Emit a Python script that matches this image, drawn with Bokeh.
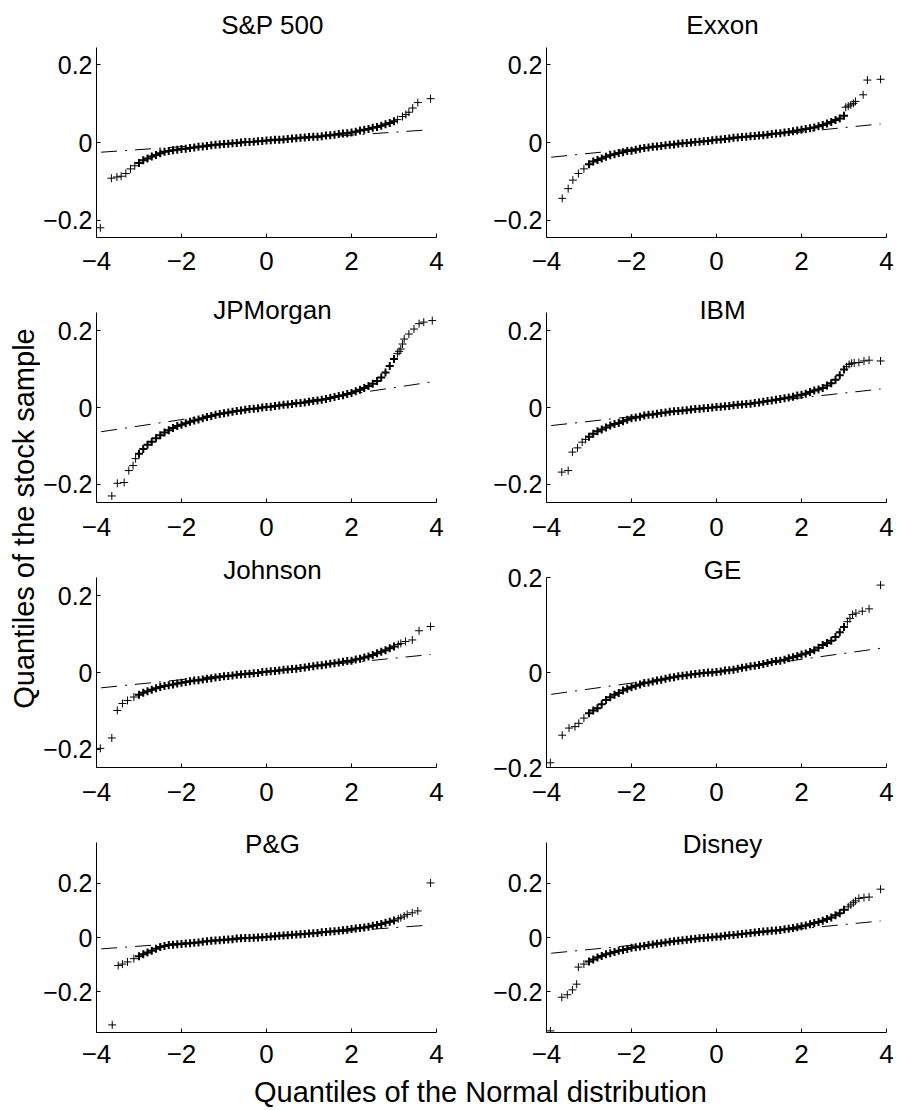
import math
from bokeh.plotting import figure
from bokeh.layouts import row, column
from bokeh.models import Range1d, FixedTicker, CustomJSTickFormatter, Label
from bokeh.core.properties import value
from bokeh.embed import file_html
from bokeh.resources import INLINE

FONT = "Liberation Sans"

# ---------------- data ----------------
stocks = ["S&P 500", "Exxon", "JPMorgan", "IBM", "Johnson", "GE", "P&G", "Disney"]

x_label = "Quantiles of the Normal distribution"
y_label = "Quantiles of the stock sample"

x_ticks = [-4, -2, 0, 2, 4]
y_ticks = [-0.2, 0, 0.2]
y_limits = [0.245, 0.245, 0.247, 0.247, 0.248, 0.2, 0.35, 0.35]

# normal quantiles (central part of the sample)
grid_x = [-3.0, -2.9, -2.8, -2.7, -2.6, -2.5, -2.4, -2.3, -2.2, -2.1,
          -2.0, -1.9, -1.8, -1.7, -1.6, -1.5, -1.4, -1.3, -1.2, -1.1,
          -1.0, -0.9, -0.8, -0.7, -0.6, -0.5, -0.4, -0.3, -0.2, -0.1,
          0.0, 0.1, 0.2, 0.3, 0.4, 0.5, 0.6, 0.7, 0.8, 0.9,
          1.0, 1.1, 1.2, 1.3, 1.4, 1.5, 1.6, 1.7, 1.8, 1.9,
          2.0, 2.1, 2.2, 2.3, 2.4, 2.5, 2.6, 2.7, 2.8, 2.9,
          3.0]

sp500_y = [-0.053, -0.046, -0.041, -0.036, -0.032, -0.028, -0.024, -0.022, -0.020, -0.019,
           -0.017, -0.016, -0.014, -0.013, -0.011, -0.010, -0.009, -0.007, -0.006, -0.005,
           -0.004, -0.003, -0.002, -0.001, 0.000, 0.001, 0.001, 0.002, 0.003, 0.004,
           0.005, 0.006, 0.007, 0.007, 0.008, 0.009, 0.010, 0.011, 0.012, 0.013,
           0.014, 0.015, 0.015, 0.016, 0.018, 0.019, 0.020, 0.022, 0.023, 0.024,
           0.026, 0.028, 0.031, 0.033, 0.035, 0.038, 0.040, 0.043, 0.047, 0.050,
           0.055]
exxon_y = [-0.056, -0.049, -0.045, -0.041, -0.037, -0.033, -0.030, -0.027, -0.025, -0.022,
           -0.021, -0.019, -0.016, -0.014, -0.013, -0.011, -0.010, -0.009, -0.007, -0.006,
           -0.005, -0.003, -0.002, -0.001, 0.000, 0.001, 0.002, 0.003, 0.004, 0.006,
           0.007, 0.008, 0.009, 0.010, 0.012, 0.013, 0.014, 0.015, 0.016, 0.017,
           0.018, 0.019, 0.020, 0.022, 0.023, 0.024, 0.026, 0.027, 0.029, 0.031,
           0.033, 0.035, 0.037, 0.039, 0.042, 0.045, 0.049, 0.053, 0.058, 0.062,
           0.069]
jpmorgan_y = [-0.120, -0.108, -0.097, -0.089, -0.080, -0.072, -0.065, -0.059, -0.053, -0.048,
              -0.045, -0.041, -0.037, -0.034, -0.031, -0.028, -0.025, -0.022, -0.019, -0.017,
              -0.015, -0.013, -0.011, -0.009, -0.008, -0.006, -0.004, -0.003, -0.002, 0.000,
              0.001, 0.002, 0.004, 0.005, 0.007, 0.008, 0.009, 0.011, 0.012, 0.013,
              0.015, 0.017, 0.018, 0.020, 0.022, 0.025, 0.027, 0.030, 0.032, 0.035,
              0.038, 0.042, 0.046, 0.051, 0.056, 0.062, 0.069, 0.078, 0.091, 0.108,
              0.126]
ibm_y = [-0.076, -0.068, -0.062, -0.057, -0.052, -0.047, -0.043, -0.040, -0.036, -0.032,
         -0.028, -0.026, -0.024, -0.021, -0.019, -0.018, -0.016, -0.014, -0.013, -0.011,
         -0.010, -0.009, -0.008, -0.007, -0.005, -0.004, -0.003, -0.002, -0.001, 0.000,
         0.001, 0.002, 0.003, 0.004, 0.006, 0.007, 0.008, 0.009, 0.010, 0.012,
         0.013, 0.015, 0.017, 0.018, 0.020, 0.022, 0.024, 0.026, 0.028, 0.031,
         0.033, 0.036, 0.040, 0.044, 0.047, 0.051, 0.057, 0.063, 0.072, 0.084,
         0.099]
johnson_y = [-0.058, -0.053, -0.049, -0.045, -0.041, -0.038, -0.035, -0.033, -0.031, -0.029,
             -0.027, -0.025, -0.023, -0.021, -0.020, -0.018, -0.016, -0.015, -0.013, -0.012,
             -0.010, -0.009, -0.008, -0.006, -0.005, -0.004, -0.003, -0.002, -0.001, 0.001,
             0.002, 0.003, 0.004, 0.005, 0.007, 0.008, 0.009, 0.010, 0.012, 0.013,
             0.015, 0.016, 0.018, 0.019, 0.021, 0.023, 0.024, 0.026, 0.028, 0.030,
             0.031, 0.034, 0.036, 0.039, 0.042, 0.046, 0.050, 0.054, 0.058, 0.063,
             0.068]
ge_y = [-0.086, -0.080, -0.075, -0.067, -0.058, -0.052, -0.047, -0.043, -0.038, -0.034,
        -0.031, -0.028, -0.025, -0.022, -0.021, -0.019, -0.017, -0.015, -0.013, -0.011,
        -0.010, -0.008, -0.007, -0.006, -0.004, -0.003, -0.002, -0.001, 0.000, 0.000,
        0.001, 0.002, 0.004, 0.005, 0.006, 0.008, 0.010, 0.011, 0.013, 0.014,
        0.016, 0.018, 0.020, 0.022, 0.024, 0.025, 0.027, 0.030, 0.032, 0.035,
        0.038, 0.040, 0.043, 0.047, 0.052, 0.058, 0.062, 0.067, 0.075, 0.085,
        0.096]
pg_y = [-0.069, -0.062, -0.055, -0.049, -0.041, -0.035, -0.031, -0.028, -0.027, -0.025,
        -0.024, -0.022, -0.021, -0.019, -0.018, -0.016, -0.014, -0.012, -0.011, -0.010,
        -0.008, -0.007, -0.006, -0.004, -0.003, -0.002, -0.002, -0.001, 0.000, 0.001,
        0.002, 0.004, 0.005, 0.006, 0.007, 0.008, 0.010, 0.011, 0.012, 0.013,
        0.015, 0.016, 0.017, 0.019, 0.020, 0.022, 0.023, 0.025, 0.027, 0.029,
        0.031, 0.033, 0.035, 0.037, 0.040, 0.043, 0.046, 0.050, 0.054, 0.058,
        0.063]
disney_y = [-0.088, -0.081, -0.074, -0.068, -0.062, -0.058, -0.053, -0.049, -0.046, -0.042,
            -0.038, -0.036, -0.033, -0.031, -0.028, -0.026, -0.023, -0.021, -0.018, -0.016,
            -0.014, -0.012, -0.010, -0.008, -0.006, -0.005, -0.003, -0.002, 0.000, 0.001,
            0.003, 0.004, 0.006, 0.008, 0.009, 0.011, 0.013, 0.015, 0.017, 0.018,
            0.020, 0.022, 0.023, 0.025, 0.026, 0.028, 0.030, 0.032, 0.035, 0.038,
            0.041, 0.044, 0.049, 0.053, 0.057, 0.062, 0.068, 0.074, 0.082, 0.089,
            0.102]

# tail points (|x| > 3) read individually
sp500_tail_x = [-3.91, -3.65, -3.52, -3.42, -3.31, -3.20, -3.10, 3.08, 3.20, 3.28, 3.35, 3.44, 3.56, 3.86]
sp500_tail_y = [-0.220, -0.092, -0.089, -0.087, -0.080, -0.068, -0.060, 0.059, 0.067, 0.072, 0.078, 0.089, 0.103, 0.113]
exxon_tail_x = [-3.63, -3.49, -3.38, -3.25, -3.12, 3.04, 3.10, 3.16, 3.22, 3.27, 3.45, 3.55, 3.86]
exxon_tail_y = [-0.144, -0.119, -0.097, -0.080, -0.068, 0.091, 0.094, 0.097, 0.101, 0.106, 0.123, 0.161, 0.163]
jpmorgan_tail_x = [-3.64, -3.51, -3.35, -3.24, -3.14, -3.08, 3.08, 3.12, 3.16, 3.20, 3.24, 3.35, 3.47, 3.59, 3.70, 3.90]
jpmorgan_tail_y = [-0.230, -0.197, -0.195, -0.164, -0.151, -0.133, 0.140, 0.146, 0.152, 0.165, 0.178, 0.191, 0.204, 0.218, 0.222, 0.226]
ibm_tail_x = [-3.64, -3.49, -3.39, -3.27, -3.16, -3.08, 3.06, 3.12, 3.18, 3.24, 3.35, 3.47, 3.59, 3.86]
ibm_tail_y = [-0.168, -0.164, -0.116, -0.105, -0.090, -0.083, 0.106, 0.112, 0.115, 0.116, 0.117, 0.121, 0.123, 0.121]
johnson_tail_x = [-3.91, -3.64, -3.51, -3.39, -3.27, -3.12, 3.10, 3.16, 3.27, 3.43, 3.59, 3.86]
johnson_tail_y = [-0.198, -0.171, -0.099, -0.081, -0.073, -0.064, 0.073, 0.076, 0.081, 0.085, 0.109, 0.120]
ge_tail_x = [-3.91, -3.63, -3.47, -3.33, -3.24, -3.12, 3.08, 3.14, 3.20, 3.28, 3.43, 3.59, 3.86]
ge_tail_y = [-0.190, -0.132, -0.117, -0.114, -0.107, -0.096, 0.107, 0.114, 0.122, 0.125, 0.129, 0.134, 0.184]
pg_tail_x = [-3.63, -3.49, -3.39, -3.27, -3.12, 3.10, 3.16, 3.24, 3.31, 3.43, 3.56, 3.86]
pg_tail_y = [-0.322, -0.103, -0.098, -0.090, -0.078, 0.069, 0.073, 0.079, 0.085, 0.091, 0.098, 0.201]
disney_tail_x = [-3.91, -3.64, -3.51, -3.39, -3.29, -3.25, -3.12, 3.10, 3.16, 3.22, 3.27, 3.35, 3.47, 3.59, 3.86]
disney_tail_y = [-0.344, -0.220, -0.211, -0.193, -0.172, -0.109, -0.098, 0.113, 0.120, 0.128, 0.135, 0.144, 0.147, 0.149, 0.178]

# reference (quartile-fit) line end points
qq_line_x = [-3.89, 3.86]
qq_line_start = [-0.025, -0.038, -0.063, -0.047, -0.040, -0.046, -0.042, -0.058]
qq_line_end = [0.033, 0.048, 0.066, 0.048, 0.047, 0.051, 0.046, 0.061]

center_y = [sp500_y, exxon_y, jpmorgan_y, ibm_y, johnson_y, ge_y, pg_y, disney_y]
tail_x = [sp500_tail_x, exxon_tail_x, jpmorgan_tail_x, ibm_tail_x, johnson_tail_x, ge_tail_x, pg_tail_x, disney_tail_x]
tail_y = [sp500_tail_y, exxon_tail_y, jpmorgan_tail_y, ibm_tail_y, johnson_tail_y, ge_tail_y, pg_tail_y, disney_tail_y]

# ---------------- layout (pixels) ----------------
FMT = "const s = Math.abs(tick).toString(); return (tick < 0) ? '\\u2212' + s : s;"
YLAB_W = 40
LEFT_W, RIGHT_W = 450, 407
BORDER_L = 54
AXIS_W = 342
AXIS_H = 190
ROW_TOPS = [47, 29, 29, 29]          # space above the y axis (title area, inside the frame)
ROW_BOTTOMS = [46, 46, 46, 42]
TITLE_DY = [23, 3, 8, -1]            # title centre above the axis top, per row
XTICK_STANDOFF = [14, 15, 15, 12]
XLAB_H = 36


def make_panel(i):
    left_col = (i % 2 == 0)
    r = i // 2
    lim = y_limits[i]
    top = ROW_TOPS[r]
    width = LEFT_W if left_col else RIGHT_W
    span = 2 * lim / AXIS_H                       # data units per pixel
    p = figure(width=width, height=top + AXIS_H + ROW_BOTTOMS[r],
               x_range=Range1d(-4, 4), y_range=Range1d(-lim, lim + top * span),
               toolbar_location=None, output_backend="svg",
               min_border_left=BORDER_L, min_border_right=width - BORDER_L - AXIS_W,
               min_border_top=0, min_border_bottom=ROW_BOTTOMS[r])
    p.outline_line_color = None
    p.xgrid.visible = False
    p.ygrid.visible = False
    p.background_fill_color = "white"
    p.border_fill_color = "white"

    p.xaxis.ticker = FixedTicker(ticks=x_ticks)
    p.yaxis.ticker = FixedTicker(ticks=y_ticks)
    p.yaxis.bounds = (-lim, lim)
    p.xaxis.major_label_standoff = XTICK_STANDOFF[r]
    p.yaxis.major_label_standoff = 4
    p.xaxis.major_label_text_font_size = "26px"
    p.yaxis.major_label_text_font_size = "25px"
    for ax in (p.xaxis[0], p.yaxis[0]):
        ax.formatter = CustomJSTickFormatter(code=FMT)
        ax.axis_line_color = "black"
        ax.axis_line_width = 1
        ax.major_tick_line_color = "black"
        ax.major_tick_in = 4
        ax.major_tick_out = 0
        ax.minor_tick_line_color = None
        ax.major_label_text_font = FONT
        ax.major_label_text_color = "black"

    p.line(qq_line_x, [qq_line_start[i], qq_line_end[i]], line_color="black",
           line_width=1, line_dash="16 8 2 8")
    p.scatter(grid_x, center_y[i], marker="cross", size=8,
              line_color="black", line_width=2)
    p.scatter(tail_x[i], tail_y[i], marker="cross", size=8,
              line_color="black", line_width=1)

    p.add_layout(Label(x=0, y=lim, x_units="data", y_units="data", text=stocks[i],
                       x_offset=6, y_offset=TITLE_DY[r], text_align="center",
                       text_baseline="middle", text_font=FONT, text_font_size="26px",
                       text_color="black"))
    return p


panels = [make_panel(i) for i in range(8)]

total_h = sum(t + AXIS_H + b for t, b in zip(ROW_TOPS, ROW_BOTTOMS)) + XLAB_H

# shared y label
ylab = figure(width=YLAB_W, height=total_h, x_range=Range1d(0, YLAB_W), y_range=Range1d(0, total_h),
              x_axis_type=None, y_axis_type=None, toolbar_location=None,
              output_backend="svg", min_border=0)
ylab.outline_line_color = None
ylab.xgrid.visible = False
ylab.ygrid.visible = False
ylab.text(x=[23], y=[total_h - 518], text=[y_label], angle=math.pi / 2,
          text_align="center", text_baseline="middle",
          text_font=value(FONT), text_font_size="29px", text_color="black")

# shared x label
xlab_w = LEFT_W + RIGHT_W
xlab = figure(width=xlab_w, height=XLAB_H, x_range=Range1d(0, xlab_w), y_range=Range1d(0, XLAB_H),
              x_axis_type=None, y_axis_type=None, toolbar_location=None,
              output_backend="svg", min_border=0)
xlab.outline_line_color = None
xlab.xgrid.visible = False
xlab.ygrid.visible = False
xlab.text(x=[480 - YLAB_W], y=[XLAB_H - 17], text=[x_label], text_align="center",
          text_baseline="middle", text_font=value(FONT),
          text_font_size="29px", text_color="black")

grid_rows = [row(panels[2 * k], panels[2 * k + 1]) for k in range(4)]
layout = row(ylab, column(*grid_rows, xlab))

open("out.html", "w", encoding="utf-8").write(file_html(layout, INLINE, title="QQ plots"))
